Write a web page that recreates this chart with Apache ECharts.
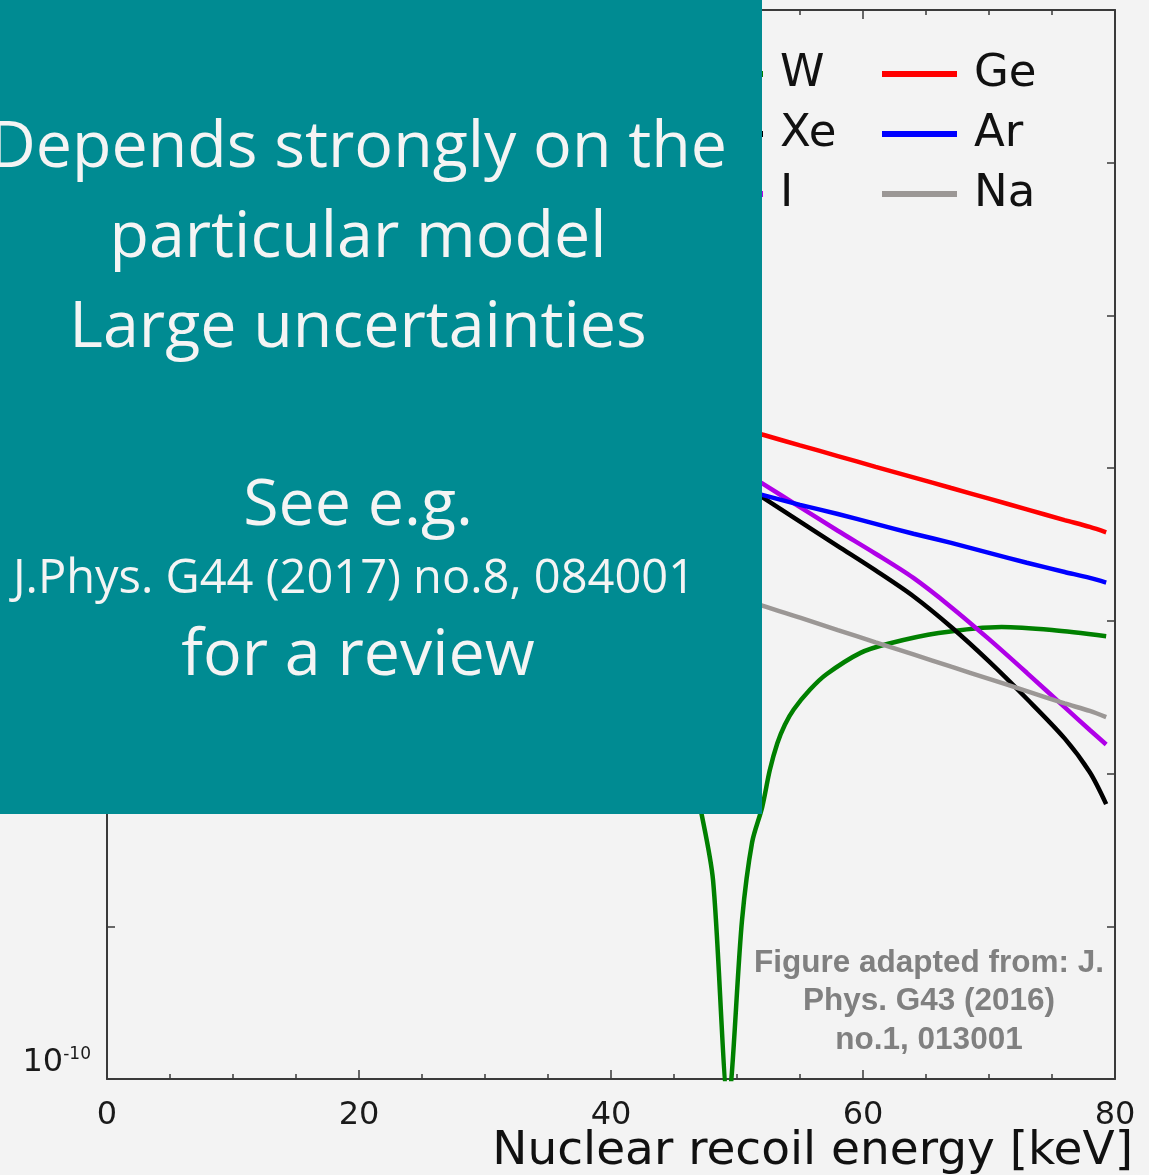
<!DOCTYPE html>
<html>
<head>
<meta charset="utf-8">
<script src="https://cdn.jsdelivr.net/npm/echarts/dist/echarts.min.js"></script>
<style>
  html, body { margin: 0; padding: 0; background: #f3f3f3; }
  #chart { width: 1149px; height: 1175px; }
</style>
</head>
<body>
<div id="chart"></div>
<script>
// Recoil energies (keV) shared by the Ge, Ar, Na, I and Xe spectra
const energyKeV = [1, 5, 10, 15, 20, 25, 30, 35, 40, 45, 50, 52, 55, 58, 61, 64, 67, 70, 73, 76, 78, 79.3];

// Differential event rates per target
const rateGe = [4.68e-5, 3.47e-5, 2.34e-5, 1.58e-5, 1.10e-5, 7.76e-6, 5.62e-6, 4.17e-6, 3.16e-6, 2.40e-6, 1.86e-6,
                1.66e-6, 1.41e-6, 1.20e-6, 1.02e-6, 8.71e-7, 7.41e-7, 6.31e-7, 5.37e-7, 4.57e-7, 4.12e-7, 3.80e-7];
const rateAr = [9.55e-6, 7.76e-6, 5.89e-6, 4.47e-6, 3.39e-6, 2.57e-6, 2.00e-6, 1.55e-6, 1.20e-6, 9.33e-7, 7.41e-7,
                6.68e-7, 5.75e-7, 5.01e-7, 4.32e-7, 3.72e-7, 3.24e-7, 2.79e-7, 2.40e-7, 2.09e-7, 1.91e-7, 1.78e-7];
const rateNa = [3.39e-6, 2.63e-6, 1.91e-6, 1.38e-6, 1.00e-6, 7.24e-7, 5.25e-7, 3.80e-7, 2.75e-7, 2.00e-7, 1.45e-7,
                1.26e-7, 1.05e-7, 8.71e-8, 7.24e-8, 6.03e-8, 5.01e-8, 4.17e-8, 3.47e-8, 2.88e-8, 2.57e-8, 2.34e-8];
const rateI  = [2.51e-4, 1.66e-4, 9.55e-5, 5.37e-5, 3.02e-5, 1.70e-5, 9.55e-6, 5.37e-6, 3.02e-6, 1.74e-6, 1.00e-6,
                7.94e-7, 5.56e-7, 3.89e-7, 2.75e-7, 1.91e-7, 1.23e-7, 7.59e-8, 4.57e-8, 2.72e-8, 1.93e-8, 1.55e-8];
const rateXe = [4.79e-4, 3.02e-4, 1.58e-4, 8.13e-5, 4.07e-5, 2.04e-5, 1.05e-5, 5.37e-6, 2.82e-6, 1.51e-6, 8.32e-7,
                6.46e-7, 4.47e-7, 3.09e-7, 2.14e-7, 1.45e-7, 9.12e-8, 5.43e-8, 3.09e-8, 1.70e-8, 1.02e-8, 6.31e-9];

// Tungsten has its own, finer sampling around the form-factor zero
const energyW = [1, 5, 10, 15, 20, 25, 30, 35, 40, 43, 45, 46.3, 47.2, 48.1, 49.3, 50.4, 51.2, 52, 52.6, 53.2,
                 53.8, 54.5, 55.8, 57.1, 59.8, 62, 66, 71, 75, 79.3];
const rateW = [2.82e-4, 1.12e-4, 3.55e-5, 1.12e-5, 3.55e-6, 1.26e-6, 4.47e-7, 1.58e-7, 6.31e-8, 3.31e-8, 2.00e-8,
               1.12e-8, 5.37e-9, 2.00e-9, 7.24e-11, 1.10e-9, 3.55e-9, 6.03e-9, 1.05e-8, 1.58e-8,
               2.09e-8, 2.63e-8, 3.55e-8, 4.47e-8, 6.17e-8, 7.08e-8, 8.32e-8, 9.12e-8, 8.71e-8, 7.94e-8];

const xTickValues = [0, 20, 40, 60, 80];
const yRange = [1e-10, 1e-3];

const noteLines = [
  'Depends strongly on the',
  'particular model',
  'Large uncertainties',
  'See e.g.',
  'J.Phys. G44 (2017) no.8, 084001',
  'for a review'
];
const sourceLines = ['Figure adapted from: J.', 'Phys. G43 (2016)', 'no.1, 013001'];

const pairs = (xs, ys) => xs.map((x, i) => [x, ys[i]]);

function lineSeries(name, xs, ys, color) {
  return {
    name: name,
    type: 'line',
    data: pairs(xs, ys),
    showSymbol: false,
    symbol: 'none',
    clip: true,
    smooth: 0.3,
    lineStyle: { color: color, width: 4.5 },
    itemStyle: { color: color },
    emphasis: { disabled: true }
  };
}

const axisColor = '#3a3a3a';
const tickFont = 'DejaVu Sans';

const chart = echarts.init(document.getElementById('chart'), null, { renderer: 'canvas' });

const legendBase = {
  orient: 'vertical',
  top: 46,
  icon: 'rect',
  itemWidth: 75,
  itemHeight: 6,
  itemGap: 14,
  selectedMode: false,
  textStyle: { fontFamily: tickFont, fontSize: 45, color: '#111', lineHeight: 46, padding: [0, 0, 0, 12] }
};

const noteStyle = { fill: '#f4f4f4', textAlign: 'center', textVerticalAlign: 'middle' };
const noteFont = (s) => s + 'px "Open Sans"';

chart.setOption({
  animation: false,
  backgroundColor: '#f3f3f3',
  grid: { left: 107, top: 10, width: 1008, height: 1069, containLabel: false, outerBoundsMode: 'none' },
  legend: [
    Object.assign({}, legendBase, { left: 683, data: ['W', 'Xe', 'I'] }),
    Object.assign({}, legendBase, { left: 877, data: ['Ge', 'Ar', 'Na'] })
  ],
  xAxis: [
    {
      type: 'value', position: 'bottom', min: xTickValues[0], max: xTickValues[xTickValues.length - 1], interval: 20,
      axisLine: { show: true, onZero: false, lineStyle: { color: axisColor, width: 2 } },
      axisTick: { show: true, inside: true, length: 9, lineStyle: { color: axisColor, width: 1.5 } },
      minorTick: { show: true, splitNumber: 4, length: 5, lineStyle: { color: axisColor, width: 1.5 } },
      splitLine: { show: false },
      axisLabel: { fontFamily: tickFont, fontSize: 32, color: '#1a1a1a', margin: 21 },
      name: 'Nuclear recoil energy [keV]',
      nameLocation: 'end',
      nameGap: 18,
      nameMoveOverlap: false,
      nameTextStyle: { fontFamily: tickFont, fontSize: 47, color: '#111', align: 'right', verticalAlign: 'top', padding: [49, 0, 0, 0] }
    },
    {
      type: 'value', position: 'top', min: xTickValues[0], max: xTickValues[xTickValues.length - 1], interval: 20,
      axisLine: { show: true, onZero: false, lineStyle: { color: axisColor, width: 2 } },
      axisTick: { show: true, inside: true, length: 9, lineStyle: { color: axisColor, width: 1.5 } },
      minorTick: { show: true, splitNumber: 4, length: 5, lineStyle: { color: axisColor, width: 1.5 } },
      splitLine: { show: false },
      axisLabel: { show: false }
    }
  ],
  yAxis: [
    {
      type: 'log', logBase: 10, position: 'left', min: yRange[0], max: yRange[1], splitNumber: 7,
      axisLine: { show: true, onZero: false, lineStyle: { color: axisColor, width: 2 } },
      axisTick: { show: true, inside: true, length: 8, lineStyle: { color: axisColor, width: 1.5 } },
      minorTick: { show: false },
      splitLine: { show: false },
      axisLabel: {
        margin: 16,
        verticalAlign: 'bottom',
        formatter: function (v) {
          const e = Math.round(Math.log10(v));
          return (e % 2 === 0) ? '{b|10}{s|' + (e < 0 ? '-' + (-e) : e) + '}' : '';
        },
        rich: {
          b: { fontFamily: tickFont, fontSize: 32, color: '#1a1a1a', lineHeight: 28, verticalAlign: 'bottom' },
          s: { fontFamily: tickFont, fontSize: 17, color: '#1a1a1a', lineHeight: 14, verticalAlign: 'bottom', padding: [0, 0, 16, 0] }
        }
      }
    },
    {
      type: 'log', logBase: 10, position: 'right', min: yRange[0], max: yRange[1], splitNumber: 7,
      axisLine: { show: true, onZero: false, lineStyle: { color: axisColor, width: 2 } },
      axisTick: { show: true, inside: true, length: 8, lineStyle: { color: axisColor, width: 1.5 } },
      splitLine: { show: false },
      axisLabel: { show: false }
    }
  ],
  series: [
    lineSeries('W', energyW, rateW, '#008000'),
    lineSeries('Xe', energyKeV, rateXe, '#000000'),
    lineSeries('I', energyKeV, rateI, '#b000e8'),
    lineSeries('Ge', energyKeV, rateGe, '#ff0000'),
    lineSeries('Ar', energyKeV, rateAr, '#0000ff'),
    lineSeries('Na', energyKeV, rateNa, '#9b9795')
  ],
  graphic: [
    {
      type: 'group', z: 100, silent: true,
      children: [
        { type: 'rect', z: 100, shape: { x: 0, y: 0, width: 762, height: 814 }, style: { fill: '#008b92' } },
        { type: 'text', z: 101, x: 358, y: 149, style: Object.assign({ text: noteLines[0], font: noteFont(64.5) }, noteStyle) },
        { type: 'text', z: 101, x: 358, y: 239, style: Object.assign({ text: noteLines[1], font: noteFont(64.5) }, noteStyle) },
        { type: 'text', z: 101, x: 358, y: 329, style: Object.assign({ text: noteLines[2], font: noteFont(64.5) }, noteStyle) },
        { type: 'text', z: 101, x: 358, y: 507, style: Object.assign({ text: noteLines[3], font: noteFont(64.5) }, noteStyle) },
        { type: 'text', z: 101, x: 354, y: 580, style: Object.assign({ text: noteLines[4], font: noteFont(47) }, noteStyle) },
        { type: 'text', z: 101, x: 358, y: 657, style: Object.assign({ text: noteLines[5], font: noteFont(64.5) }, noteStyle) }
      ]
    },
    {
      type: 'group', z: 90, silent: true,
      children: sourceLines.map((t, i) => ({
        type: 'text', z: 90, x: 929, y: 963 + i * 38.5,
        style: { text: t, fill: '#808080', font: 'bold 31.5px "Liberation Sans"', textAlign: 'center', textVerticalAlign: 'middle' }
      }))
    }
  ]
});
</script>
</body>
</html>
